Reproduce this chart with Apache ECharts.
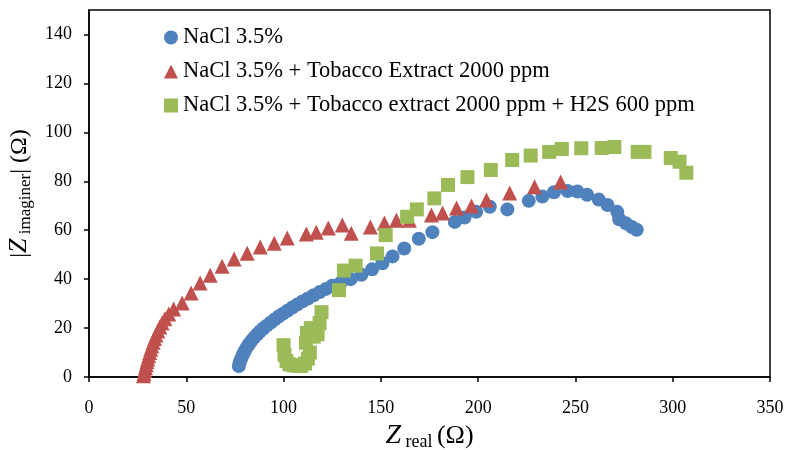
<!DOCTYPE html>
<html>
<head>
<meta charset="utf-8">
<script src="https://cdn.jsdelivr.net/npm/echarts@6/dist/echarts.min.js"></script>
<style>
html,body{margin:0;padding:0;background:#fff;}
#chart{width:795px;height:450px;}
</style>
</head>
<body>
<div id="chart"></div>
<script>
// ---- data ----
const seriesNames = [
  'NaCl 3.5%',
  'NaCl 3.5% + Tobacco Extract 2000 ppm',
  'NaCl 3.5% + Tobacco extract 2000 ppm + H2S 600 ppm'
];
const naclX = [77,77.5,78.2,79,80,81,82.2,83.5,85,86.5,88,89.7,91.5,93.4,95.4,97.5,99.7,102,104.5,107,109.7,112.5,115.5,118.6,121.8,125,129.5,134.5,140,145.5,150.8,156,162,169.5,176.5,188,193,199,206,215,226,233,239,246,251,256,262,266.5,271.5,272.5,276,279,281.5];
const naclY = [4.5,6,7.5,9,10.5,12,13.4,14.8,16.2,17.5,18.7,19.9,21.1,22.3,23.5,24.7,25.9,27.1,28.4,29.6,30.9,32.1,33.4,34.7,36,37.3,38.6,40,41.8,44,46.5,49.3,52.5,56.5,59.2,63.4,65.2,67.5,69.6,68.5,72,73.8,75.5,76,75.8,74.5,72.5,70.3,67.5,64.5,62.8,61.3,60.2];
const tobX = [28,28.3,28.7,29,29.4,29.8,30.2,30.7,31.2,31.7,32.3,33,33.7,34.5,35.4,36.4,37.6,39,41,43.5,47.9,52.5,57.1,62.3,68.4,74.6,81.3,88,95.2,101.9,111.7,116.8,123,130.2,134.8,144.6,151.8,158,164.7,176,181.7,188.9,196.6,204.3,216.2,229,242.4];
const tobY = [0.5,1.5,2.7,3.8,5,6.2,7.4,8.7,10,11.3,12.7,14.2,15.7,17.2,18.8,20.4,22.1,23.8,25.7,27.8,30.2,34.3,38.4,41.6,45.3,48.2,50.6,53.1,54.7,56.8,58.4,59.2,60.9,62.1,58.8,61.3,62.9,64.1,64.1,66.2,67,69.1,69.9,72.3,75.2,77.8,79.7];
const h2sX = [100,100.5,101.5,103,105,107,109,111,112.5,113.5,111.5,112,114,115.5,117.5,118.5,119.5,128.5,131,137,148,152.5,163.5,168.5,177.5,184.5,194.5,206.5,217.5,227,236.5,243,253,263.5,270,282,285.5,299,303.5,307];
const h2sY = [13,9,6.5,5.2,4.8,4.6,4.5,5.5,7.5,10,14,18,20,16.5,17.5,22,26.5,35.5,43.5,45.5,50.5,58,65.5,68.5,73,78.5,81.7,84.6,88.7,90.5,92,93.2,93.5,93.6,94,92,92,89.5,88,83.5];
const xTicks = [0,50,100,150,200,250,300,350];
const yTicks = [0,20,40,60,80,100,120,140];
const colors = ['#4F81BD','#C0504D','#9BBB59'];
const symbols = ['circle','triangle','rect'];

function pairs(xs, ys){ return xs.map((x,i)=>[x, ys[i]]); }

const chart = echarts.init(document.getElementById('chart'), null, {renderer:'canvas'});
const FONT = '"Liberation Serif", "DejaVu Serif", serif';

chart.setOption({
  animation:false,
  backgroundColor:'#fff',
  textStyle:{fontFamily:FONT},
  grid:{left:89, right:25, top:10, bottom:73, show:true, borderColor:'#000', borderWidth:1.5, backgroundColor:'transparent', containLabel:false, outerBoundsMode:'none'},
  legend:{
    orient:'vertical', left:159, top:21, itemWidth:14, itemHeight:14, itemGap:11,
    textStyle:{fontFamily:FONT, fontSize:22.5, color:'#000'},
    data: seriesNames.map((n,i)=>({name:n, icon:symbols[i]}))
  },
  xAxis:{
    type:'value', min:0, max:350, interval:50,
    axisLine:{show:true, onZero:false, lineStyle:{color:'#000', width:1.5}},
    axisTick:{show:true, inside:false, length:5, lineStyle:{color:'#000', width:1.5}, customValues:xTicks},
    axisLabel:{fontFamily:FONT, fontSize:18, color:'#000', margin:22, customValues:xTicks},
    splitLine:{show:false},
    name:'{z|Z}{s| real }{o|(Ω)}', nameLocation:'middle', nameGap:43,
    nameTextStyle:{rich:{
      z:{fontFamily:FONT, fontStyle:'italic', fontSize:28, color:'#000'},
      s:{fontFamily:FONT, fontSize:18, color:'#000', padding:[12,0,0,0]},
      o:{fontFamily:FONT, fontSize:26, color:'#000'}
    }}
  },
  yAxis:{
    type:'value', min:0, max:150, interval:20,
    axisLine:{show:true, onZero:false, lineStyle:{color:'#000', width:1.5}},
    axisTick:{show:true, inside:false, length:5, lineStyle:{color:'#000', width:1.5}, customValues:yTicks},
    axisLabel:{fontFamily:FONT, fontSize:18, color:'#000', margin:17, customValues:yTicks},
    splitLine:{show:false},
    name:'{o||}{z|Z}{s| imaginer}{o|| (Ω)}', nameLocation:'middle', nameGap:55, nameRotate:90,
    nameTextStyle:{rich:{
      z:{fontFamily:FONT, fontStyle:'italic', fontSize:26, color:'#000'},
      s:{fontFamily:FONT, fontSize:17, color:'#000', padding:[12,0,0,0]},
      o:{fontFamily:FONT, fontSize:24, color:'#000'}
    }}
  },
  series:[
    {name:seriesNames[0], type:'scatter', symbol:symbols[0], symbolSize:14, data:pairs(naclX,naclY), itemStyle:{color:colors[0], opacity:1}},
    {name:seriesNames[1], type:'scatter', symbol:symbols[1], symbolSize:15, data:pairs(tobX,tobY), itemStyle:{color:colors[1], opacity:1}},
    {name:seriesNames[2], type:'scatter', symbol:symbols[2], symbolSize:14, data:pairs(h2sX,h2sY), itemStyle:{color:colors[2], opacity:1}}
  ]
});
</script>
</body>
</html>
